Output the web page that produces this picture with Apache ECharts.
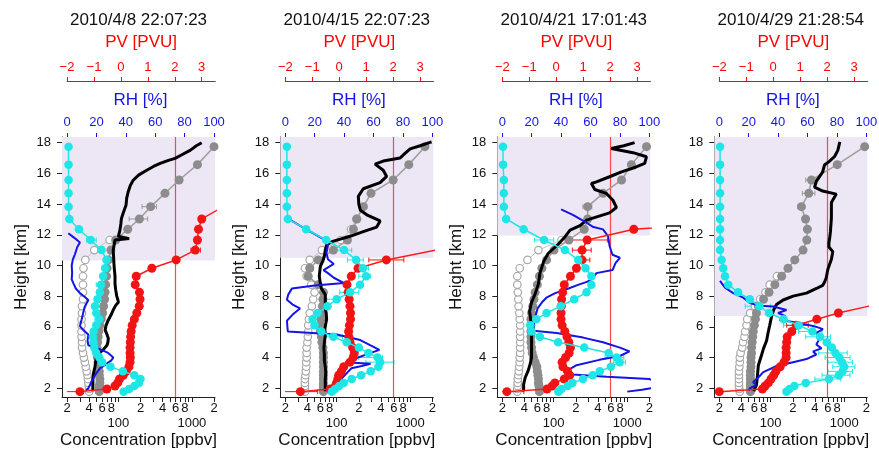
<!DOCTYPE html>
<html><head><meta charset="utf-8">
<script src="https://cdn.jsdelivr.net/npm/echarts@6/dist/echarts.min.js"></script>
<style>html,body{margin:0;padding:0;background:#fff}#c{width:879px;height:451px}</style>
</head><body><div id="c"></div>
<script>
// ---------------- DATA ----------------
const titles = ['2010/4/8 22:07:23', '2010/4/15 22:07:23', '2010/4/21 17:01:43', '2010/4/29 21:28:54'];
const levels = [1.78, 1.95, 2.15, 2.35, 2.6, 2.85, 3.1, 3.4, 3.7, 4.0, 4.3, 4.65, 5.0, 5.35, 5.7, 6.1, 6.5, 6.9, 7.35, 7.8, 8.25, 8.75, 9.3, 9.82, 10.36, 11.0, 11.66, 12.36, 13.03, 13.83, 14.7, 15.57, 16.57, 17.74];
const tropopause = [10.33, 10.5, 11.95, 6.7];

const concTicks = [20, 30, 40, 50, 60, 70, 80, 90, 100, 200, 300, 400, 500, 600, 700, 800, 900, 1000, 2000];
const concLabelTicks = [20, 40, 60, 80, 100, 200, 400, 600, 800, 1000, 2000];
const concLabelText = ['2', '4', '6', '8', '\n100', '2', '4', '6', '8', '\n1000', '2'];
const heightTicks = [2, 4, 6, 8, 10, 12, 14, 16, 18];
const rhTicks = [0, 20, 40, 60, 80, 100];
const pvTicks = [-2, -1, 0, 1, 2, 3];

// Panel 1
const cyanP1 = [118, 140, 165, 190, 200, 165, 115, 78, 60, 55, 50, 47, 46, 45, 46, 50, 55, 50, 48, 52, 56, 58, 62, 66, 69, 59, 42, 29, 21.5, 21, 21, 21, 21, 21];
const grayP1 = [55, 55, 55, 56, 56, 55, 55, 54, 53, 52, 51, 51, 52, 53, 54, 56, 58, 61, 63, 65, 66, 67, 69, 70, 73, 79, 92, 134, 193, 275, 430, 670, 1190, 2000];
const openP1 = [40, 40, 39.5, 39, 38.5, 38, 37, 36, 35, 34, 33, 32, 32, 31.5, 31.5, 31.5, 31.5, 32, 32, 33, 33, 33, 33, 33.5, 35.5, 47, 76];
const pvP1 = [-1.52, -0.52, -0.22, -0.12, -0.05, 0.09, 0.2, 0.3, 0.34, 0.35, 0.34, 0.34, 0.35, 0.36, 0.38, 0.42, 0.5, 0.59, 0.68, 0.71, 0.69, 0.53, 0.57, 1.15, 2.05, 2.76, 2.84, 2.88, 3.0, 3.8, 5.0, 6.5, 8.0, 10.0];
const sondeHP1 = [1.8, 2.0, 2.3, 2.6, 3.0, 3.4, 3.7, 4.1, 4.3, 4.5, 4.8, 5.0, 5.25, 5.5, 5.8, 6.1, 6.45, 6.8, 7.1, 7.4, 7.6, 7.8, 8.0, 8.4, 8.8, 9.3, 9.8, 10.14, 10.6, 11.0, 11.4, 11.66, 11.75, 11.9, 12.3, 12.7, 13.06, 13.5, 13.93, 14.4, 14.8, 15.2, 15.55, 15.9, 16.2, 16.45, 16.65, 16.85, 16.98, 17.2, 17.5, 17.8, 18.0];
const sondeP1 = [45, 45, 45, 45, 46, 48, 49, 51, 55, 62, 70, 72, 73, 70, 66, 68, 73, 80, 85, 92, 100, 98, 95, 92, 90, 90, 88, 87, 86, 85, 88, 90, 140, 100, 105, 108, 110, 118, 127, 130, 136, 145, 159, 190, 243, 300, 370, 480, 590, 720, 945, 1150, 1360];
const rhHP1 = [12.1, 11.8, 11.5, 11.2, 10.73, 10.4, 10.0, 9.5, 9.1, 8.85, 8.5, 8.2, 7.75, 7.3, 6.9, 6.5, 6.05, 5.8, 5.5, 5.1, 4.8, 4.55, 4.3, 4.0, 3.8, 3.6, 3.3, 2.85, 2.45, 2.0, 1.85];
const rhP1 = [0.9, 5, 8.8, 7, 5.4, 4, 3.2, 3.5, 3.2, 4.3, 6, 8.8, 14.5, 12, 11, 10, 8.8, 11, 14.5, 14, 14.5, 22.4, 28, 31.5, 30, 27, 22.4, 19, 16.8, 14.5, 13];
const grayErrP1 = [[13.83, 210, 330], [13.03, 140, 250]];
const cyanErrP1 = [[11.66, 37, 50], [8.75, 50, 68], [6.5, 48, 66]];
const pvErrP1 = [[11.0, 2.6, 2.95], [1.78, -2.3, -1.2]];

// Panel 2
const cyanP2 = [86, 95, 108, 125, 160, 215, 290, 370, 390, 360, 270, 200, 137, 90, 62, 50, 47, 55, 75, 100, 152, 208, 251, 227, 184, 126, 72, 38.5, 21.7, 21, 21, 21, 21, 21];
const grayP2 = [66, 66, 66, 66, 66, 66, 66, 66, 66, 66, 66, 65, 63, 62, 60, 60, 61, 63, 64, 65, 66, 56, 41, 43, 56, 90, 140, 169, 188, 231, 293, 587, 957, 1590];
const openP2 = [37, 37, 37, 37, 37, 37.5, 38, 38.5, 38.5, 39, 39, 39, 40, 40.5, 41, 41, 42, 43, 46, 48, 50, 45, 39, 37, 43, 63, 114, 157, 185];
const pvP2 = [-1.44, -0.33, -0.14, -0.1, -0.05, -0.02, 0.08, 0.17, 0.4, 0.52, 0.56, 0.5, 0.4, 0.36, 0.35, 0.38, 0.42, 0.42, 0.4, 0.37, 0.33, 0.29, 0.45, 0.70, 1.75, 3.6, 5, 6, 7, 8, 9, 10, 11, 12];
const sondeHP2 = [1.8, 2.2, 2.6, 3.0, 3.4, 3.8, 4.2, 4.6, 5.0, 5.4, 5.85, 6.2, 6.5, 6.9, 7.2, 7.6, 8.1, 8.5, 8.8, 9.3, 9.95, 10.3, 10.6, 11.0, 11.35, 11.55, 11.9, 12.2, 12.5, 12.9, 13.3, 13.6, 14.0, 14.5, 15.0, 15.4, 15.8, 16.2, 16.6, 16.8, 17.0, 17.3, 17.6, 17.8, 18.05];
const sondeP2 = [70, 70, 70, 71, 70, 68, 68, 67, 68, 70, 69, 71, 73, 72, 70, 70, 70, 62, 60, 58, 60, 65, 68, 70, 73, 86, 152, 230, 350, 390, 257, 210, 200, 197, 230, 390, 478, 430, 333, 430, 726, 850, 1000, 1365, 1955];
const rhHP2 = [13.03, 12.36, 11.66, 11.3, 10.8, 10.4, 10.1, 9.7, 9.5, 9.2, 8.85, 8.7, 8.5, 8.1, 7.76, 7.45, 7.2, 6.8, 6.4, 5.7, 5.5, 5.14, 4.8, 4.5, 4.2, 3.95, 3.7, 3.6, 3.45, 3.3, 3.0, 2.6, 2.2, 1.8];
const rhP2 = [2.2, 14, 27, 29, 28, 29, 33, 26, 29, 33, 40, 20, 4.5, 2, 1.1, 5, 10, 5, 1.1, 1.7, 35, 51, 58, 64, 55, 48, 41, 58, 52, 45, 42, 38, 33, 28];
const grayErrP2 = [[9.82, 38, 48]];
const cyanErrP2 = [[11.0, 100, 160], [10.36, 140, 230], [9.82, 190, 270], [9.3, 200, 290], [8.25, 110, 200], [7.8, 60, 110], [5.35, 65, 120], [4.0, 200, 420], [3.7, 250, 600]];
const pvErrP2 = [[10.36, 1.1, 2.4], [1.78, -2.3, -0.8]];

// Panel 3
const cyanP3 = [116, 128, 155, 180, 250, 340, 424, 600, 790, 720, 560, 260, 115, 65, 50, 48, 58, 80, 125, 190, 280, 326, 326, 271, 216, 142, 74, 39, 22.5, 21, 21, 21, 20.5, 20.4];
const grayP3 = [64, 64, 63, 62, 62, 61, 60, 59, 56, 53, 51, 50, 49, 49, 49, 49, 49, 50, 52, 54, 56, 60, 64, 69, 80, 101, 161, 260, 290, 290, 470, 838, 1140, 1830];
const openP3 = [32, 32, 32.4, 32.4, 32.5, 33, 33.5, 34, 34.5, 34.5, 35, 35, 35, 35, 35, 35, 34.5, 34, 33.3, 33, 32.5, 32, 32, 34.5, 44, 62, 128];
const pvP3 = [-1.83, -0.34, -0.15, -0.05, 0.3, 0.5, 0.42, 0.25, 0.22, 0.35, 0.48, 0.53, 0.47, 0.4, 0.32, 0.22, 0.18, 0.18, 0.19, 0.2, 0.24, 0.30, 0.53, 0.75, 0.96, 0.96, 1.15, 2.88, 9, 10, 11, 12, 13, 14];
const sondeHP3 = [1.8, 2.0, 2.25, 2.7, 3.15, 3.6, 4.0, 4.5, 4.9, 5.5, 6.0, 6.4, 7.0, 7.6, 8.15, 8.8, 9.5, 10.25, 10.78, 11.4, 11.86, 12.3, 12.6, 12.95, 13.2, 13.43, 13.78, 14.25, 14.7, 14.95, 15.34, 15.45, 15.78, 16.1, 16.4, 16.65, 17.08, 17.35, 17.62, 17.8, 18.0];
const sondeP3 = [39, 39, 39, 41, 45, 48, 50, 50, 50, 50, 49, 49, 47, 50, 56, 62, 65, 73, 84, 116, 142, 167, 228, 280, 405, 575, 714, 640, 519, 363, 326, 382, 575, 838, 1300, 1730, 1830, 1200, 607, 900, 1260];
const rhHP3 = [13.65, 13.3, 12.8, 12.5, 12.35, 11.9, 11.25, 10.7, 10.5, 10.15, 9.7, 9.5, 9.2, 8.95, 8.75, 8.5, 8.2, 7.9, 7.6, 7.2, 6.5, 5.75, 5.6, 5.3, 5.0, 4.65, 4.4, 4.3, 4.1, 3.85, 3.5, 3.2, 2.9, 2.75, 2.6, 2.45, 2.2, 2.0, 1.9, 1.78];
const rhP3 = [40, 48, 57, 62, 68.5, 72, 73, 75, 80, 77, 75, 64, 62, 58, 52, 45, 36, 30, 27, 24, 22, 21, 37, 55, 68.5, 80, 86.5, 87, 80, 66, 50.5, 45, 48, 71, 100, 104, 106, 101, 95, 85];
const grayErrP3 = [[13.83, 250, 330]];
const cyanErrP3 = [[11.66, 55, 100], [4.0, 500, 900], [3.7, 650, 950]];
const pvErrP3 = [[11.66, 0.4, 1.9], [11.0, 0.6, 1.3], [10.36, 0.75, 1.25], [1.78, -2.2, -1.2]];

// Panel 4
const cyanP4 = [164, 180, 210, 300, 620, 850, 950, 1000, 930, 860, 760, 680, 580, 470, 370, 240, 150, 95, 70, 52, 36, 26.5, 23.9, 22.6, 21.5, 20.5, 20.5, 20.5, 20.5, 20.5, 20.5, 20.5, 20.5, 20.5];
const grayP4 = [53, 53, 53, 53, 53, 53, 53, 54, 54, 54, 55, 55, 56, 57, 58, 60, 62, 64, 68, 80, 95, 114, 141, 172, 213, 276, 310, 316, 298, 262, 330, 359, 805, 1900];
const openP4 = [38, 37.5, 37, 37, 37, 37, 37, 37.5, 38, 38, 39, 41, 42, 44, 45, 47, 48, 52.5, 61, 72, 85, 97, 122];
const pvP4 = [-2.0, -0.4, -0.3, -0.18, -0.08, 0.02, 0.1, 0.26, 0.4, 0.48, 0.48, 0.48, 0.5, 0.52, 0.69, 0.85, 1.62, 2.42, 3.55, 5, 6, 7, 7.5, 8, 8.5, 9, 9.5, 10, 10.5, 11, 11.5, 12, 12.5, 13];
const sondeHP4 = [1.8, 2.0, 2.2, 2.8, 3.5, 4.15, 4.6, 5.1, 5.6, 6.1, 6.6, 7.0, 7.2, 7.45, 7.75, 8.0, 8.2, 8.5, 8.7, 8.95, 9.2, 9.75, 10.4, 10.9, 11.2, 11.5, 11.75, 12.2, 13.1, 14.1, 14.65, 14.85, 15.1, 15.5, 16.1, 16.55, 16.8, 17.1, 17.5, 18.05];
const sondeP4 = [59, 61, 64, 66, 68, 75, 80, 88, 92, 97, 102, 108, 112, 120, 148, 202, 306, 420, 510, 545, 570, 600, 670, 700, 620, 620, 634, 650, 670, 670, 780, 510, 395, 420, 510, 540, 634, 740, 820, 872];
const rhHP4 = [9.0, 8.85, 8.55, 8.2, 7.9, 7.55, 7.38, 7.33, 7.1, 6.9, 6.7, 6.45, 6.25, 6.0, 5.85, 5.6, 5.25, 4.85, 4.6, 4.4, 4.2, 3.9, 3.7, 3.45, 3.05, 2.7, 2.4, 2.2, 2.0, 1.85];
const rhP4 = [0.5, 1.6, 3.9, 9.5, 16.3, 20.8, 27.6, 36.6, 45.7, 40, 45, 41, 54.8, 66, 70.5, 66, 68.3, 66, 69.5, 63.8, 66, 59.3, 50.2, 39, 29.9, 26.5, 23, 25, 20.8, 20];
const grayErrP4 = [[15.57, 300, 420], [14.7, 270, 400], [13.83, 235, 290]];
const cyanErrP4 = [[7.35, 45, 100], [6.1, 150, 400], [5.7, 240, 500], [5.35, 300, 650], [4.3, 450, 1100], [4.0, 550, 1200], [3.7, 600, 1300], [3.4, 700, 1400], [3.1, 600, 1300], [2.85, 500, 1200], [2.6, 400, 900]];
const pvErrP4 = [[6.1, 0.5, 1.3]];

// ---------------- LAYOUT / STYLE ----------------
const panels = [
  {cyan: cyanP1, gray: grayP1, open: openP1, pv: pvP1, sH: sondeHP1, s: sondeP1, rhH: rhHP1, rh: rhP1, eg: grayErrP1, ec: cyanErrP1, ep: pvErrP1},
  {cyan: cyanP2, gray: grayP2, open: openP2, pv: pvP2, sH: sondeHP2, s: sondeP2, rhH: rhHP2, rh: rhP2, eg: grayErrP2, ec: cyanErrP2, ep: pvErrP2},
  {cyan: cyanP3, gray: grayP3, open: openP3, pv: pvP3, sH: sondeHP3, s: sondeP3, rhH: rhHP3, rh: rhP3, eg: grayErrP3, ec: cyanErrP3, ep: pvErrP3},
  {cyan: cyanP4, gray: grayP4, open: openP4, pv: pvP4, sH: sondeHP4, s: sondeP4, rhH: rhHP4, rh: rhP4, eg: grayErrP4, ec: cyanErrP4, ep: pvErrP4}
];
const FONT = '"Liberation Sans", Arial, Helvetica, sans-serif';
const lefts = [62, 280.3, 497.3, 714.3];
const W = 153, TOP = 137, H = 260;
const concMin = 17.1, concMax = 2063, yMin = 1.43, yMax = 18.37;
const pvMin = -2, pvMax = 3.5;
const C_CYAN = '#1EE6E6', C_GRAY = '#8C8C8C', C_RED = '#F21414', C_BLUE = '#1414E6', C_AX = '#222';
const NAME_SIZE = 17;

const lg = v => Math.log10(v);
function concFmt(v) {
  const r = Math.round(Math.pow(10, v));
  const i = concLabelTicks.indexOf(r);
  return i >= 0 ? concLabelText[i] : '';
}
const pvFmt = v => (v < 0 ? '\u2212' + Math.abs(v) : String(v));

function errRender(color) {
  return function (params, api) {
    const a = api.coord([api.value(0), api.value(2)]);
    const b = api.coord([api.value(1), api.value(2)]);
    const c = 2.5;
    const st = {stroke: color, lineWidth: 1, fill: null};
    return {type: 'group', children: [
      {type: 'line', shape: {x1: a[0], y1: a[1], x2: b[0], y2: b[1]}, style: st},
      {type: 'line', shape: {x1: a[0], y1: a[1] - c, x2: a[0], y2: a[1] + c}, style: st},
      {type: 'line', shape: {x1: b[0], y1: b[1] - c, x2: b[0], y2: b[1] + c}, style: st}
    ]};
  };
}

const grid = [], xAxis = [], yAxis = [], series = [], graphic = [];
panels.forEach((P, p) => {
  const L = lefts[p];
  const g0 = 3 * p, x0 = 4 * p, y0 = 3 * p;
  grid.push({left: L, top: TOP, width: W, height: H, outerBoundsMode: 'none', containLabel: false});
  grid.push({left: L + 5, top: TOP, width: 147, height: H, outerBoundsMode: 'none', containLabel: false});
  grid.push({left: L + 5, top: TOP, width: 148.2, height: H, outerBoundsMode: 'none', containLabel: false});

  xAxis.push({gridIndex: g0, type: 'log', logBase: 10, min: concMin, max: concMax, show: false});
  xAxis.push({
    gridIndex: g0, type: 'value', position: 'bottom', min: lg(concMin), max: lg(concMax),
    splitLine: {show: false},
    axisLine: {show: true, lineStyle: {color: C_AX, width: 1}},
    axisTick: {show: true, length: 5, customValues: concTicks.map(lg), lineStyle: {color: C_AX}},
    axisLabel: {customValues: concLabelTicks.map(lg), formatter: concFmt, margin: 4, fontSize: 13, lineHeight: 15, color: '#111', fontFamily: FONT, verticalAlign: 'top'},
    name: 'Concentration [ppbv]', nameLocation: 'middle', nameGap: 35, nameMoveOverlap: false,
    nameTextStyle: {fontSize: NAME_SIZE, color: '#111', fontFamily: FONT}
  });
  xAxis.push({
    gridIndex: g0 + 1, type: 'value', position: 'top', min: 0, max: 100,
    splitLine: {show: false},
    axisLine: {show: true, lineStyle: {color: C_BLUE, width: 1}},
    axisTick: {show: true, length: 4, customValues: rhTicks, lineStyle: {color: C_BLUE}},
    axisLabel: {customValues: rhTicks, margin: 8, fontSize: 13, color: C_BLUE, fontFamily: FONT},
    name: 'RH [%]', nameLocation: 'middle', nameGap: 28, nameMoveOverlap: false,
    nameTextStyle: {fontSize: NAME_SIZE, color: C_BLUE, fontFamily: FONT}
  });
  xAxis.push({
    gridIndex: g0 + 2, type: 'value', position: 'top', offset: 56, min: pvMin, max: pvMax,
    splitLine: {show: false},
    axisLine: {show: true, lineStyle: {color: '#FF0000', width: 1}},
    axisTick: {show: true, length: 4, customValues: pvTicks, lineStyle: {color: '#FF0000'}},
    axisLabel: {customValues: pvTicks, formatter: pvFmt, margin: 7, fontSize: 13, color: '#FF0000', fontFamily: FONT},
    name: 'PV [PVU]', nameLocation: 'middle', nameGap: 30, nameMoveOverlap: false,
    nameTextStyle: {fontSize: NAME_SIZE, color: '#FF0000', fontFamily: FONT}
  });

  yAxis.push({
    gridIndex: g0, type: 'value', min: yMin, max: yMax, position: 'left',
    splitLine: {show: false},
    axisLine: {show: true, lineStyle: {color: C_AX, width: 1}},
    axisTick: {show: true, length: 5, customValues: heightTicks, lineStyle: {color: C_AX}},
    axisLabel: {customValues: heightTicks, margin: 11, fontSize: 13, color: '#111', fontFamily: FONT},
    name: 'Height [km]', nameLocation: 'middle', nameGap: 32, nameMoveOverlap: false,
    nameTextStyle: {fontSize: NAME_SIZE, color: '#111', fontFamily: FONT}
  });
  yAxis.push({gridIndex: g0 + 1, type: 'value', min: yMin, max: yMax, show: false});
  yAxis.push({gridIndex: g0 + 2, type: 'value', min: yMin, max: yMax, show: false});

  graphic.push({type: 'text', x: L + W / 2, y: 20, silent: true,
    style: {text: titles[p], align: 'center', verticalAlign: 'middle', textAlign: 'center', textVerticalAlign: 'middle',
      fontSize: NAME_SIZE, fontFamily: FONT, fill: '#111'}});

  // stratosphere shading
  series.push({type: 'line', xAxisIndex: x0, yAxisIndex: y0, data: [], z: 1, silent: true,
    markArea: {silent: true, itemStyle: {color: '#EDE6F5'}, data: [[{yAxis: tropopause[p]}, {yAxis: yMax}]]}});
  // PV = 2 line
  series.push({type: 'line', xAxisIndex: x0 + 3, yAxisIndex: y0 + 2, data: [], z: 2, silent: true,
    markLine: {silent: true, symbol: ['none', 'none'], label: {show: false},
      lineStyle: {color: '#FF4848', width: 1.2, type: 'solid', opacity: 1}, data: [{xAxis: 2}]}});
  // error bars
  series.push({type: 'custom', xAxisIndex: x0, yAxisIndex: y0, z: 3, clip: true, silent: true,
    data: P.eg.map(e => [e[1], e[2], e[0]]), encode: {x: [0, 1], y: 2}, renderItem: errRender('#9A9A9A')});
  series.push({type: 'custom', xAxisIndex: x0, yAxisIndex: y0, z: 3, clip: true, silent: true,
    data: P.ec.map(e => [e[1], e[2], e[0]]), encode: {x: [0, 1], y: 2}, renderItem: errRender(C_CYAN)});
  series.push({type: 'custom', xAxisIndex: x0 + 3, yAxisIndex: y0 + 2, z: 3, clip: true, silent: true,
    data: P.ep.map(e => [e[1], e[2], e[0]]), encode: {x: [0, 1], y: 2}, renderItem: errRender(C_RED)});
  // open gray circles
  series.push({type: 'line', xAxisIndex: x0, yAxisIndex: y0, z: 4, clip: true,
    data: P.open.map((v, i) => [v, levels[i]]),
    symbol: 'circle', symbolSize: 7.5, showAllSymbol: true,
    itemStyle: {color: '#FFFFFF', borderColor: '#A8A8A8', borderWidth: 1.2},
    lineStyle: {color: '#C4C4C4', width: 1}});
  // filled gray circles
  series.push({type: 'line', xAxisIndex: x0, yAxisIndex: y0, z: 5, clip: true,
    data: P.gray.map((v, i) => [v, levels[i]]),
    symbol: 'circle', symbolSize: 9, showAllSymbol: true,
    itemStyle: {color: C_GRAY},
    lineStyle: {color: '#9E9E9E', width: 1.5}});
  // sonde (black)
  series.push({type: 'line', xAxisIndex: x0, yAxisIndex: y0, z: 6, clip: true,
    data: P.s.map((v, i) => [v, P.sH[i]]), showSymbol: false,
    lineStyle: {color: '#000', width: 3}});
  // RH (blue)
  series.push({type: 'line', xAxisIndex: x0 + 2, yAxisIndex: y0 + 1, z: 7, clip: true,
    data: P.rh.map((v, i) => [v, P.rhH[i]]), showSymbol: false,
    lineStyle: {color: C_BLUE, width: 2}});
  // PV (red)
  series.push({type: 'line', xAxisIndex: x0 + 3, yAxisIndex: y0 + 2, z: 8, clip: true,
    data: P.pv.map((v, i) => [v, levels[i]]),
    symbol: 'circle', symbolSize: 9, showAllSymbol: true,
    itemStyle: {color: C_RED},
    lineStyle: {color: '#FF1A1A', width: 1.5}});
  // cyan
  series.push({type: 'line', xAxisIndex: x0, yAxisIndex: y0, z: 9, clip: true,
    data: P.cyan.map((v, i) => [v, levels[i]]),
    symbol: 'circle', symbolSize: 8.5, showAllSymbol: true,
    itemStyle: {color: C_CYAN},
    lineStyle: {color: C_CYAN, width: 1.5}});
});

const chart = echarts.init(document.getElementById('c'), null, {renderer: 'canvas'});
chart.setOption({
  animation: false,
  backgroundColor: '#fff',
  textStyle: {fontFamily: FONT},
  grid, xAxis, yAxis, series, graphic
});
</script></body></html>
